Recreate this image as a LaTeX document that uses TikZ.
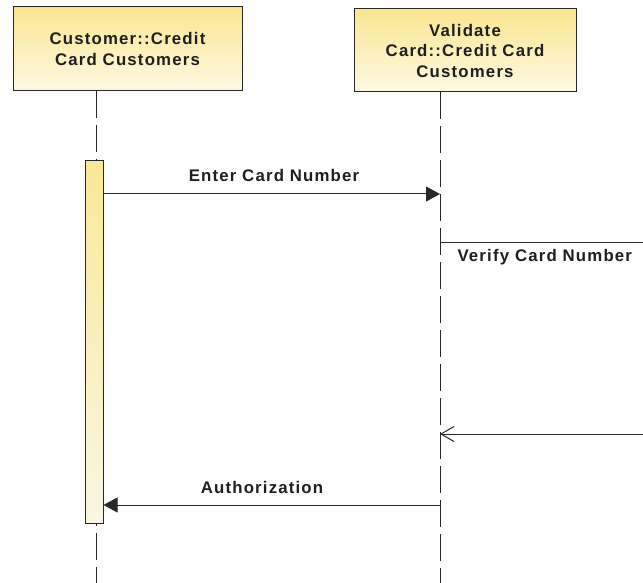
\documentclass[tikz,border=0pt]{standalone}
\usepackage{fontspec}
\setmainfont{Liberation Sans}[LetterSpace=7]
\usetikzlibrary{arrows.meta,positioning,calc}

\definecolor{boxtop}{RGB}{250,230,145}
\definecolor{boxbot}{RGB}{253,249,228}
\definecolor{bartop}{RGB}{250,232,150}
\definecolor{barbot}{RGB}{250,246,228}
\definecolor{inkline}{RGB}{40,40,40}

\tikzset{
    lifebox/.style={rectangle,draw=inkline,line width=1pt,top color=boxtop,bottom color=boxbot,align=center,font=\bfseries\fontsize{16.8}{20.5}\selectfont,text=black!88},
    lifeline/.style={draw=inkline,line width=1pt,dash pattern=on 27pt off 7pt},
    actbar/.style={rectangle,draw=inkline,line width=1pt,top color=bartop,bottom color=barbot,minimum width=18pt,minimum height=362pt,inner sep=0pt},
    msg/.style={draw=inkline,line width=1pt},
    msglabel/.style={font=\bfseries\fontsize{16.8}{20}\selectfont,text=black!88}
}

\begin{document}
\begin{tikzpicture}[x=1pt,y=-1pt]
    \useasboundingbox[fill=white] (0,0) rectangle (643,583);

    % Lifeline heads
    \node[lifebox,minimum width=229pt,minimum height=84pt] (cust) at (127.5,49) {Customer::Credit\\Card Customers};
    \node[lifebox,minimum width=222pt,minimum height=83pt] (valid) at (465,50.5) {Validate\\Card::Credit Card\\Customers};

    % Lifelines
    \coordinate (custtop) at (96,91);
    \coordinate (custend) at (96,583);
    \coordinate (validtop) at (440,92);
    \coordinate (validend) at (440,583);
    \draw[lifeline] (custtop) -- (custend);
    \draw[lifeline] (validtop) -- (validend);

    % Activation
    \node[actbar] (act) at (94,342) {};

    % Enter card number
    \coordinate (enterR) at (440,194);
    \draw[msg,-{Triangle[length=14pt,width=15pt]}] (act.east |- enterR) -- (enterR);
    \node[msglabel] (enterlbl) at (274,175) {Enter Card Number};

    % Verify card number
    \coordinate (verL) at (440,242);
    \coordinate (verR) at (643,242);
    \draw[msg] (verL) -- (verR);
    \node[msglabel,anchor=west] (verlbl) at (454,257) {Verify Card Number};

    \coordinate (retL) at (440,434);
    \coordinate (retR) at (643,434);
    \draw[msg,-{Straight Barb[length=13pt,width=15pt]}] (retR) -- (retL);

    % Authorization
    \coordinate (authR) at (440,505);
    \draw[msg,-{Triangle[length=14pt,width=15pt]}] (authR) -- (act.east |- authR);
    \node[msglabel] (authlbl) at (262,487) {Authorization};
\end{tikzpicture}
\end{document}
